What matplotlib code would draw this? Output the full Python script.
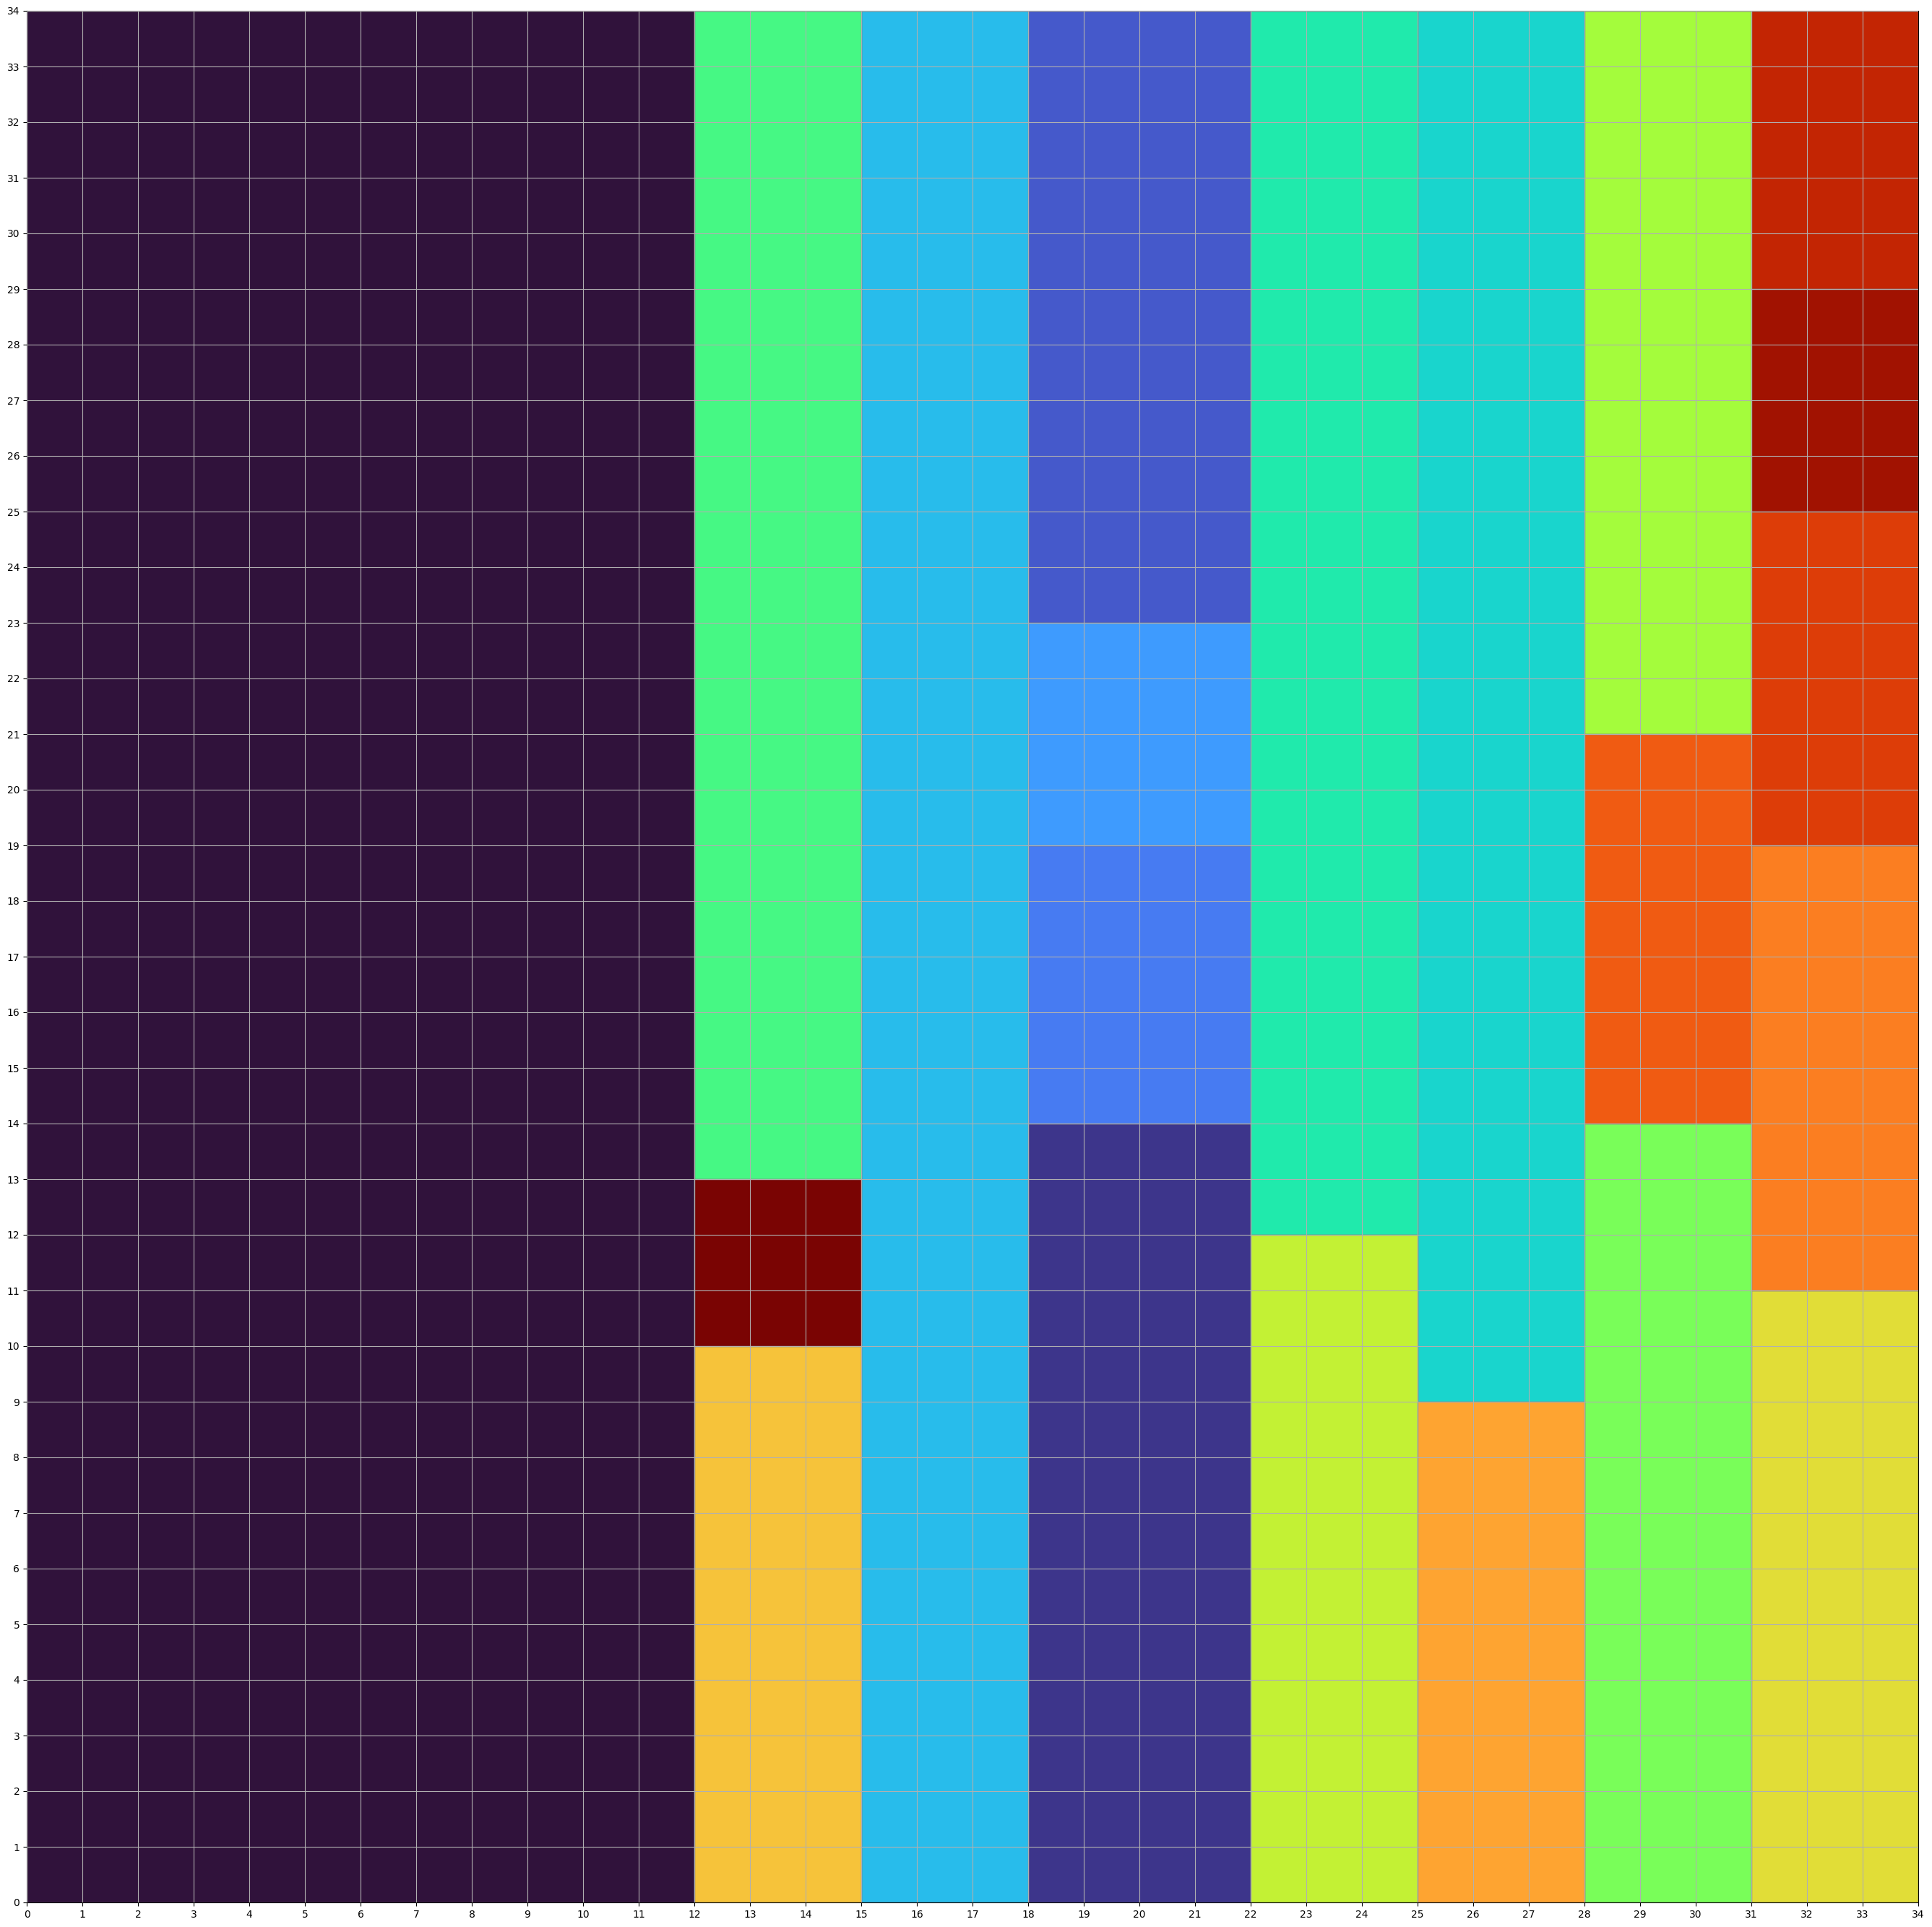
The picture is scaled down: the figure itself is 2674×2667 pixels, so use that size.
import numpy as np
import matplotlib
matplotlib.use("Agg")
import matplotlib.pyplot as plt
from matplotlib.patches import Rectangle

# container size
bin_w = 34
bin_h = 34

# placed rectangles, in colour order
rect_x = [0, 18, 18, 18, 18, 15, 25, 22, 12, 28, 28, 22, 31, 12, 25, 31, 28, 31, 31, 31, 12]
rect_y = [0, 0, 23, 14, 19, 0, 9, 12, 13, 0, 21, 0, 0, 0, 0, 11, 14, 19, 29, 25, 10]
rect_w = [12, 4, 4, 4, 4, 3, 3, 3, 3, 3, 3, 3, 3, 3, 3, 3, 3, 3, 3, 3, 3]
rect_h = [34, 14, 11, 5, 4, 34, 25, 22, 21, 14, 13, 12, 11, 10, 9, 8, 7, 6, 5, 4, 3]

colors = plt.cm.turbo(np.linspace(0, 1, len(rect_x)))

fig = plt.figure(figsize=(26.74, 26.67), dpi=100)
ax = fig.add_axes([37 / 2674, 34 / 2667, 2618 / 2674, 2618 / 2667])

for x, y, w, h, c in zip(rect_x, rect_y, rect_w, rect_h, colors):
    ax.add_patch(Rectangle((x, y), w, h, facecolor=c, edgecolor='gray', linewidth=1))

ax.set_xlim(0, bin_w)
ax.set_ylim(0, bin_h)
ax.set_xticks(range(bin_w + 1))
ax.set_yticks(range(bin_h + 1))
ax.set_axisbelow(False)
ax.grid(True)

fig.savefig("out.png", dpi=100)
